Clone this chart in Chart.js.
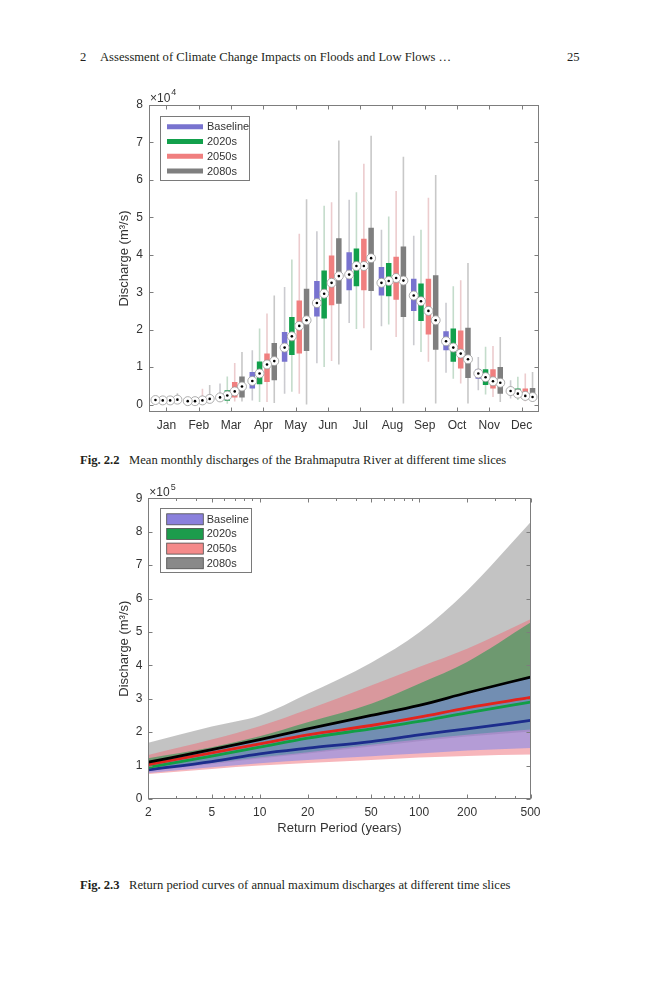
<!DOCTYPE html>
<html><head><meta charset="utf-8">
<script src="https://cdn.jsdelivr.net/npm/chart.js@4.4.0/dist/chart.umd.min.js"></script>
<style>
body{margin:0;background:#fff;}
#page{position:relative;width:659px;height:1000px;overflow:hidden;background:#fff;}
.t{position:absolute;font-family:'Liberation Serif','Times New Roman',serif;font-size:12.6px;line-height:15px;color:#231f20;white-space:nowrap;}
canvas{position:absolute;left:0;}
</style></head><body>
<div id="page">
 <div class="t" style="left:80px;top:50px">2</div>
 <div class="t" style="left:100px;top:50px">Assessment of Climate Change Impacts on Floods and Low Flows …</div>
 <div class="t" style="left:567px;top:50px">25</div>
 <canvas id="c1" width="659" height="375" style="top:75px;width:659px;height:375px"></canvas>
 <div class="t" style="left:80px;top:453px"><b>Fig. 2.2</b></div>
 <div class="t" style="left:129px;top:453px">Mean monthly discharges of the Brahmaputra River at different time slices</div>
 <canvas id="c2" width="659" height="369" style="top:480px;width:659px;height:369px"></canvas>
 <div class="t" style="left:80px;top:878px"><b>Fig. 2.3</b></div>
 <div class="t" style="left:129px;top:878px">Return period curves of annual maximum discharges at different time slices</div>
</div>
<script>
// ---------- Fig. 2.2 data (m3/s) ----------
const monthLabels = ['Jan','Feb','Mar','Apr','May','Jun','Jul','Aug','Sep','Oct','Nov','Dec'];
const seriesNames = ['Baseline','2020s','2050s','2080s'];
const dischargeTicks = [0,10000,20000,30000,40000,50000,60000,70000,80000];

const baseWhiskerLow  = [700,500,900,1100,2900,11000,21800,20900,15800,8500,3800,1600];
const baseQ1          = [1000,700,1400,4300,11400,23500,30500,29100,25000,14500,6900,2900];
const baseMedian      = [1200,900,1900,6300,15200,27100,34700,32500,29100,16900,8300,3600];
const baseQ3          = [1500,1100,2400,8700,19400,33000,40700,36700,33600,19600,9400,4300];
const baseWhiskerHigh = [2000,1500,5600,14500,31400,46300,54700,46700,45100,27200,12700,6500];

const s2020WhiskerLow  = [600,400,200,700,3400,10000,20200,21400,14000,6900,2700,1200];
const s2020Q1          = [900,700,1000,5400,13200,23000,31600,28900,22300,11400,5200,2000];
const s2020Median      = [1100,900,2400,8300,18200,29600,37000,33000,27600,15200,7300,2900];
const s2020Q3          = [1400,1100,3800,11500,23400,35800,41700,37800,32300,20300,9400,4300];
const s2020WhiskerHigh = [2000,1700,7500,20300,38700,53100,56700,50200,46700,31600,15400,7400];

const s2050WhiskerLow  = [600,500,800,700,2900,11600,20400,18000,11400,5600,2000,900];
const s2050Q1          = [900,800,1900,6000,13600,26500,30500,28000,18700,9600,4300,1800];
const s2050Median      = [1100,1100,3500,10700,21000,32500,37000,33800,25000,13600,6200,2300];
const s2050Q3          = [1400,1400,6000,13600,27800,39800,44300,39500,33600,19800,9400,4300];
const s2050WhiskerHigh = [2300,4200,11100,24300,45600,54000,64300,57000,55200,33200,15600,8300];

const s2080WhiskerLow  = [700,600,800,400,0,10700,14500,300,300,300,700,700];
const s2080Q1          = [1000,1000,1900,6500,14300,26900,30300,23400,14600,7100,2900,1200];
const s2080Median      = [1300,1500,4800,11600,22500,34300,39100,33100,22500,12100,5800,2000];
const s2080Q3          = [1700,2000,7500,16400,30900,44400,47200,42200,34500,20500,10000,4400];
const s2080WhiskerHigh = [3000,5200,14000,29100,54800,70500,71800,66200,61300,37800,18000,8700];

// ---------- Fig. 2.3 data (m3/s) ----------
const returnPeriods = [2,5,10,20,50,100,200,500];
const returnTicks = [2,5,10,20,50,100,200,500];
const returnMinorTicks = [3,4,6,7,8,9,30,40,60,70,80,90,300,400];
const peakTicks = [0,100000,200000,300000,400000,500000,600000,700000,800000,900000];

const line2080 = [110000,148000,178000,210000,250000,280000,318000,365000];
const line2050 = [103000,138000,165000,192000,220000,245000,273000,304000];
const line2020 = [95000,128000,155000,182000,210000,232000,258000,290000];
const lineBase = [87000,112000,135000,152000,172000,192000,210000,235000];

const band2080Hi = [168000,217000,250000,315000,408000,498000,623000,828000];
const band2080Lo = [84000,104000,121000,136000,157000,173000,187000,202000];
const band2050Hi = [132000,178000,218000,268000,340000,395000,450000,538000];
const band2050Lo = [75000,90000,100000,108000,117000,124000,129000,133000];
const band2020Hi = [122000,155000,188000,230000,285000,345000,410000,528000];
const band2020Lo = [85000,108000,125000,140000,162000,178000,192000,208000];
const bandBaseHi = [112000,150000,180000,213000,252000,283000,320000,366000];
const bandBaseLo = [78000,95000,107000,117000,128000,136000,145000,153000];

// ---------- styles ----------
const FONT = "'Liberation Sans', Arial, Helvetica, sans-serif";
const TXT = '#333333';
const boxColors = ['#7873cf','#12a04c','#f07f7f','#7f7f7f'];
const whiskerColors = ['#cbcbd0','#c4dccb','#ecccce','#c8c8c8'];
const boxOffsets = [-0.34,-0.115,0.115,0.34];
const bandColors = ['rgba(118,132,240,0.52)','rgba(3,156,67,0.5)','rgba(240,110,120,0.5)','rgba(135,135,135,0.5)'];
const bandLegendColors = ['#8a80dc','#1c9c4c','#f48a8a','#898989'];
const lineColors = ['#1c2c8c','#119e45','#e3241d','#000000'];

Chart.defaults.font.family = FONT;
Chart.defaults.color = TXT;

function decor(cfg) {
  return {
    id: 'decor',
    afterDraw(chart) {
      const ctx = chart.ctx, a = chart.chartArea;
      const xs = chart.scales.x, ys = chart.scales.y;
      ctx.save();
      const L = Math.round(a.left)+0.5, R = Math.round(a.right)-0.5, T = Math.round(a.top)+0.5, B = Math.round(a.bottom)-0.5;
      ctx.strokeStyle = '#7d7d7d'; ctx.lineWidth = 1;
      ctx.beginPath();
      cfg.xMajor.forEach(v => { const p = Math.round(xs.getPixelForValue(v))+0.5;
        ctx.moveTo(p,B); ctx.lineTo(p,B-4); ctx.moveTo(p,T); ctx.lineTo(p,T+4); });
      (cfg.xMinor||[]).forEach(v => { const p = Math.round(xs.getPixelForValue(v))+0.5;
        ctx.moveTo(p,B); ctx.lineTo(p,B-2.5); ctx.moveTo(p,T); ctx.lineTo(p,T+2.5); });
      cfg.yMajor.forEach(v => { const p = Math.round(ys.getPixelForValue(v))+0.5;
        ctx.moveTo(L,p); ctx.lineTo(L+4,p); ctx.moveTo(R,p); ctx.lineTo(R-4,p); });
      ctx.stroke();
      ctx.strokeRect(L, T, R-L, B-T);
      // exponent label
      ctx.fillStyle = TXT; ctx.textAlign = 'left'; ctx.textBaseline = 'middle';
      ctx.font = '12px ' + FONT;
      ctx.fillText('×10', a.left+1, a.top + cfg.expDy);
      const w = ctx.measureText('×10').width;
      ctx.font = '9px ' + FONT;
      ctx.fillText(cfg.exp, a.left+2+w, a.top + cfg.expDy - 5.5);
      // legend
      const lg = cfg.legend;
      ctx.fillStyle = '#ffffff';
      ctx.fillRect(a.left+lg.x, a.top+lg.y, lg.w, lg.h);
      ctx.strokeStyle = '#7a7a7a'; ctx.lineWidth = 1;
      ctx.strokeRect(Math.round(a.left+lg.x)+0.5, Math.round(a.top+lg.y)+0.5, lg.w, lg.h);
      seriesNames.forEach((name, i) => {
        const cy = a.top + lg.row0 + i*lg.rowH;
        if (lg.kind === 'line') {
          ctx.strokeStyle = lg.colors[i]; ctx.lineWidth = 5; ctx.lineCap = 'butt';
          ctx.beginPath(); ctx.moveTo(a.left+lg.sx0, cy); ctx.lineTo(a.left+lg.sx1, cy); ctx.stroke();
        } else {
          ctx.fillStyle = lg.colors[i];
          ctx.fillRect(a.left+lg.sx0, cy-5.5, lg.sx1-lg.sx0, 11);
          ctx.strokeStyle = '#4a4a4a'; ctx.lineWidth = 0.8;
          ctx.strokeRect(a.left+lg.sx0, cy-5.5, lg.sx1-lg.sx0, 11);
        }
        ctx.fillStyle = TXT; ctx.font = '11px ' + FONT;
        ctx.textAlign = 'left'; ctx.textBaseline = 'middle';
        ctx.fillText(name, a.left+lg.tx, cy+0.5);
      });
      ctx.restore();
    }
  };
}

// ---------- Fig. 2.2 chart ----------
const boxSeries = [
  {lo: baseWhiskerLow, q1: baseQ1, med: baseMedian, q3: baseQ3, hi: baseWhiskerHigh},
  {lo: s2020WhiskerLow, q1: s2020Q1, med: s2020Median, q3: s2020Q3, hi: s2020WhiskerHigh},
  {lo: s2050WhiskerLow, q1: s2050Q1, med: s2050Median, q3: s2050Q3, hi: s2050WhiskerHigh},
  {lo: s2080WhiskerLow, q1: s2080Q1, med: s2080Median, q3: s2080Q3, hi: s2080WhiskerHigh}
];
function segments(si, lo, hi) {
  const d = [];
  monthLabels.forEach((m, i) => {
    const x = i + 1 + boxOffsets[si];
    d.push({x, y: lo[i]}, {x, y: hi[i]}, {x, y: null});
  });
  return d;
}
function points(si, v) { return monthLabels.map((m, i) => ({x: i + 1 + boxOffsets[si], y: v[i]})); }

const ds1 = [];
boxSeries.forEach((s, si) => {
  ds1.push({label: seriesNames[si]+' whisker', data: segments(si, s.lo, s.hi), showLine: true, spanGaps: false,
    borderColor: whiskerColors[si], borderWidth: 1.6, pointRadius: 0, order: 3});
  ds1.push({label: seriesNames[si], data: segments(si, s.q1, s.q3), showLine: true, spanGaps: false,
    borderColor: boxColors[si], borderWidth: 5.5, borderCapStyle: 'butt', pointRadius: 0, order: 2});
  ds1.push({label: seriesNames[si]+' median', data: points(si, s.med), showLine: false,
    pointRadius: 4.5, pointBackgroundColor: '#ffffff', pointBorderColor: '#9a9a9a', pointBorderWidth: 0.8, order: 1});
  ds1.push({label: seriesNames[si]+' median dot', data: points(si, s.med), showLine: false,
    pointRadius: 1.3, pointBackgroundColor: '#000000', pointBorderWidth: 0, order: 0});
});

new Chart(document.getElementById('c1'), {
  type: 'scatter',
  data: {datasets: ds1},
  options: {
    responsive: false, animation: false, events: [],
    layout: {padding: {left: 117, right: 120, top: 30, bottom: 0}},
    plugins: {legend: {display: false}, tooltip: {enabled: false}},
    scales: {
      x: {type: 'linear', min: 0.46, max: 12.54,
        grid: {display: false, drawTicks: false}, border: {display: false},
        afterBuildTicks: s => { s.ticks = monthLabels.map((m, i) => ({value: i + 1})); },
        afterFit: s => { s.height = 38; },
        ticks: {autoSkip: false, maxRotation: 0, padding: 6, color: TXT, font: {size: 12},
          callback: v => monthLabels[Math.round(v) - 1]}},
      y: {type: 'linear', min: -2000, max: 80000,
        grid: {display: false, drawTicks: false}, border: {display: false},
        afterBuildTicks: s => { s.ticks = dischargeTicks.map(v => ({value: v})); },
        afterFit: s => { s.width = 32; },
        ticks: {padding: 6, color: TXT, font: {size: 12}, callback: v => String(Math.round(v / 10000))},
        title: {display: true, text: 'Discharge (m³/s)', color: TXT, font: {size: 13}, padding: {top: 0, bottom: 0}}}
    }
  },
  plugins: [decor({xMajor: monthLabels.map((m, i) => i + 1), yMajor: dischargeTicks, exp: '4', expDy: -6.7,
    legend: {kind: 'line', colors: boxColors, x: 11, y: 10.7, w: 89, h: 64, row0: 21.7, rowH: 14.8, sx0: 18, sx1: 54, tx: 58}})]
});

// ---------- Fig. 2.3 chart ----------
function rp(v) { return returnPeriods.map((t, i) => ({x: t, y: v[i]})); }
const lineOpts = {showLine: true, pointRadius: 0, cubicInterpolationMode: 'monotone', fill: false};
const bandOpts = {showLine: true, pointRadius: 0, cubicInterpolationMode: 'monotone', borderWidth: 0, borderColor: 'rgba(0,0,0,0)'};
const ds2 = [
  Object.assign({label: '2080s', data: rp(line2080), borderColor: lineColors[3], borderWidth: 2.8}, lineOpts),
  Object.assign({label: '2050s', data: rp(line2050), borderColor: lineColors[2], borderWidth: 2.8}, lineOpts),
  Object.assign({label: '2020s', data: rp(line2020), borderColor: lineColors[1], borderWidth: 2.8}, lineOpts),
  Object.assign({label: 'Baseline', data: rp(lineBase), borderColor: lineColors[0], borderWidth: 2.8}, lineOpts),
  Object.assign({label: 'Baseline upper', data: rp(bandBaseHi), fill: 5, backgroundColor: bandColors[0]}, bandOpts),
  Object.assign({label: 'Baseline lower', data: rp(bandBaseLo), fill: false}, bandOpts),
  Object.assign({label: '2020s upper', data: rp(band2020Hi), fill: 7, backgroundColor: bandColors[1]}, bandOpts),
  Object.assign({label: '2020s lower', data: rp(band2020Lo), fill: false}, bandOpts),
  Object.assign({label: '2050s upper', data: rp(band2050Hi), fill: 9, backgroundColor: bandColors[2]}, bandOpts),
  Object.assign({label: '2050s lower', data: rp(band2050Lo), fill: false}, bandOpts),
  Object.assign({label: '2080s upper', data: rp(band2080Hi), fill: 11, backgroundColor: bandColors[3]}, bandOpts),
  Object.assign({label: '2080s lower', data: rp(band2080Lo), fill: false}, bandOpts)
];

new Chart(document.getElementById('c2'), {
  type: 'scatter',
  data: {datasets: ds2},
  options: {
    responsive: false, animation: false, events: [],
    layout: {padding: {left: 117, right: 128.5, top: 18.3, bottom: 0}},
    plugins: {legend: {display: false}, tooltip: {enabled: false}},
    scales: {
      x: {type: 'logarithmic', min: 2, max: 500,
        grid: {display: false, drawTicks: false}, border: {display: false},
        afterBuildTicks: s => { s.ticks = returnTicks.map(v => ({value: v})); },
        afterFit: s => { s.height = 50; },
        ticks: {autoSkip: false, maxRotation: 0, padding: 6, color: TXT, font: {size: 12}, callback: v => String(v)},
        title: {display: true, text: 'Return Period (years)', color: TXT, font: {size: 13}, padding: {top: 0, bottom: 12.5}}},
      y: {type: 'linear', min: 0, max: 900000,
        grid: {display: false, drawTicks: false}, border: {display: false},
        afterBuildTicks: s => { s.ticks = peakTicks.map(v => ({value: v})); },
        afterFit: s => { s.width = 31.3; },
        ticks: {padding: 6, color: TXT, font: {size: 12}, callback: v => String(Math.round(v / 100000))},
        title: {display: true, text: 'Discharge (m³/s)', color: TXT, font: {size: 13}, padding: {top: 0, bottom: 0}}}
    }
  },
  plugins: [decor({xMajor: returnTicks, xMinor: returnMinorTicks, yMajor: peakTicks, exp: '5', expDy: -5.6,
    legend: {kind: 'patch', colors: bandLegendColors, x: 11.7, y: 10, w: 91, h: 64, row0: 21, rowH: 14.65, sx0: 18.4, sx1: 55, tx: 58.4}})]
});
</script>
</body></html>
